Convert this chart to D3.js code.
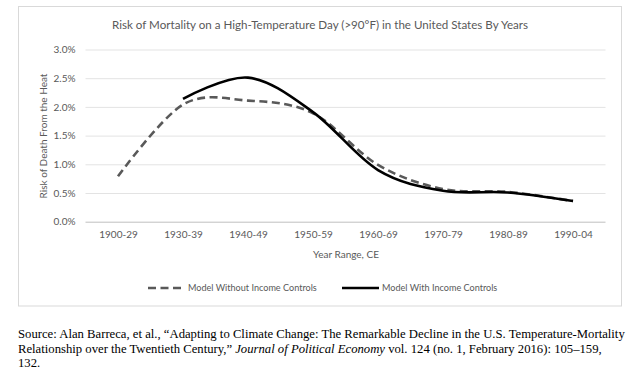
<!DOCTYPE html>
<html>
<head>
<meta charset="utf-8">
<script src="https://cdn.jsdelivr.net/npm/d3@7"></script>
<style>
  body { margin: 0; background: #fff; }
  svg { display: block; }
  .grid path { display: none; }
  .axis text, .label { fill: #595959; font-family: Lato, "Open Sans", sans-serif; }
  .source { font-family: "Liberation Serif", "DejaVu Serif", serif; fill: #000; }
</style>
</head>
<body>
<svg width="639" height="370"></svg>
<script>
var categories = ["1900-29", "1930-39", "1940-49", "1950-59", "1960-69", "1970-79", "1980-89", "1990-04"];
var withoutIncome = [0.79, 2.04, 2.11, 1.89, 0.99, 0.57, 0.52, 0.36];
var withIncome = [null, 2.14, 2.51, 1.91, 0.9, 0.54, 0.51, 0.36];
var yTicks = [0, 0.5, 1.0, 1.5, 2.0, 2.5, 3.0];

var svg = d3.select("svg");

// chart frame
svg.append("rect")
    .attr("x", 18.5).attr("y", 6.5)
    .attr("width", 603).attr("height", 299.5)
    .attr("fill", "#fff")
    .attr("stroke", "#d9d9d9");

var x = d3.scalePoint().domain(categories).range([85.5, 605.5]).padding(0.5),
    y = d3.scaleLinear().domain([0, 3]).range([221.7, 49.5]);

// gridlines
svg.append("g")
    .attr("class", "grid")
    .attr("transform", "translate(85.5,0)")
    .call(d3.axisLeft(y).tickValues(yTicks).tickSize(-520).tickFormat(""))
    .selectAll("line")
    .style("stroke", function(d) { return d === 0 ? "#bfbfbf" : "#e3e3e3"; });

// y labels
svg.append("g")
    .attr("class", "axis")
    .attr("transform", "translate(85.5,0)")
    .call(d3.axisLeft(y).tickValues(yTicks).tickSize(0).tickPadding(10)
        .tickFormat(function(d) { return d.toFixed(1) + "%"; }))
    .call(function(g) { g.select(".domain").remove(); })
    .selectAll("text")
    .style("font-size", "10px");

// x labels
svg.append("g")
    .attr("class", "axis")
    .attr("transform", "translate(0,221.7)")
    .call(d3.axisBottom(x).tickSize(0).tickPadding(9))
    .call(function(g) { g.select(".domain").remove(); })
    .selectAll("text")
    .style("font-size", "10px");

// titles
svg.append("text")
    .attr("class", "label")
    .attr("x", 320).attr("y", 29)
    .attr("text-anchor", "middle")
    .style("font-size", "11.6px")
    .text("Risk of Mortality on a High-Temperature Day (>90°F) in the United States By Years");

svg.append("text")
    .attr("class", "label")
    .attr("transform", "translate(47,136) rotate(-90)")
    .attr("text-anchor", "middle")
    .style("font-size", "10px")
    .text("Risk of Death From the Heat");

svg.append("text")
    .attr("class", "label")
    .attr("x", 346).attr("y", 258)
    .attr("text-anchor", "middle")
    .style("font-size", "10px")
    .text("Year Range, CE");

// lines
var line = d3.line()
    .curve(d3.curveCardinal.tension(0))
    .x(function(d) { return x(d.c); })
    .y(function(d) { return y(d.v); });

function pts(vals) {
    return vals.map(function(v, i) { return {c: categories[i], v: v}; })
        .filter(function(d) { return d.v != null; });
}

svg.append("path")
    .attr("d", line(pts(withoutIncome)))
    .attr("fill", "none")
    .attr("stroke", "#595959")
    .attr("stroke-width", 2.6)
    .attr("stroke-dasharray", "8,4.5");

svg.append("path")
    .attr("d", line(pts(withIncome)))
    .attr("fill", "none")
    .attr("stroke", "#000")
    .attr("stroke-width", 2.6);

// legend
var legend = [
    {name: "Model Without Income Controls", x: 148, color: "#595959", dash: "8,4.5"},
    {name: "Model With Income Controls", x: 342, color: "#000", dash: null}
];
var lg = svg.selectAll(".legend").data(legend).enter().append("g")
    .attr("class", "legend")
    .attr("transform", function(d) { return "translate(" + d.x + ",288)"; });
lg.append("line")
    .attr("x1", 0).attr("x2", 37)
    .attr("stroke", function(d) { return d.color; })
    .attr("stroke-width", 2.6)
    .attr("stroke-dasharray", function(d) { return d.dash; });
lg.append("text")
    .attr("class", "label")
    .attr("x", 40).attr("dy", "0.35em")
    .style("font-size", "9.1px")
    .text(function(d) { return d.name; });

// source note
var src = svg.append("text")
    .attr("class", "source")
    .style("font-size", "12.7px");
src.append("tspan").attr("x", 18).attr("y", 338)
    .text("Source: Alan Barreca, et al., \u201cAdapting to Climate Change: The Remarkable Decline in the U.S. Temperature-Mortality");
var l2 = src.append("tspan").attr("x", 18).attr("y", 352.5);
l2.append("tspan").text("Relationship over the Twentieth Century,\u201d ");
l2.append("tspan").style("font-style", "italic").text("Journal of Political Economy");
l2.append("tspan").text(" vol. 124 (no. 1, February 2016): 105\u2013159,");
src.append("tspan").attr("x", 18).attr("y", 367).text("132.");
</script>
</body>
</html>
